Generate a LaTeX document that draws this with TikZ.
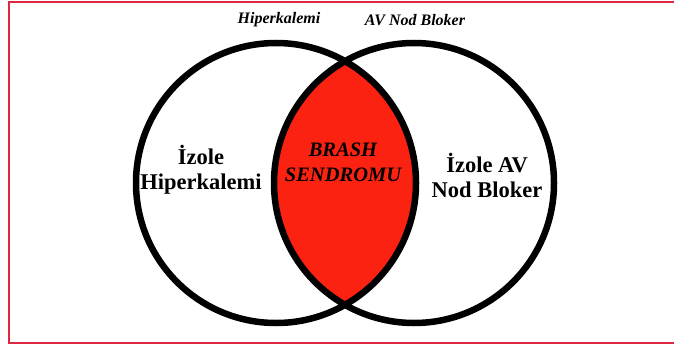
\documentclass[tikz,border=0pt]{standalone}
\usepackage{fontspec}
\setmainfont{Liberation Serif}
\definecolor{lensred}{RGB}{252,34,18}
\definecolor{framered}{RGB}{222,40,66}
\tikzset{
    every node/.style={inner sep=0mm, align=center}
}
\tikzset{ring/.style={draw=black, line width=6.5pt}}
\tikzset{toplabel/.style={font=\bfseries\itshape\fontsize{16}{18}\selectfont}}
\tikzset{sidelabel/.style={font=\bfseries\fontsize{22.5}{25}\selectfont}}
\tikzset{lenslabel/.style={font=\bfseries\itshape\fontsize{20.5}{25}\selectfont}}

\begin{document}
\begin{tikzpicture}[x=1pt, y=-1pt]
  \useasboundingbox (0,0) rectangle (674,345);
  \fill[white] (0,0) rectangle (674,345);
  \draw[framered, line width=1.3pt] (680,2) -- (9,2) -- (9,343) -- (680,343);

  \coordinate (lc) at (276,183);
  \coordinate (rc) at (414,183);

  % overlap
  \begin{scope}
    \clip (lc) circle [radius=140pt];
    \fill[lensred] (rc) circle [radius=140pt];
  \end{scope}
  \draw[ring] (lc) circle [radius=140pt];
  \draw[ring] (rc) circle [radius=140pt];

  \node (hk) [toplabel] at (279,20) {Hiperkalemi};
  \node (av) [toplabel] at (415,20) {AV Nod Bloker};

  \node (iz1) [sidelabel] at (201,170) {İzole\\Hiperkalemi};
  \node (iz2) [sidelabel] at (487,175) {İzole AV\\Nod Bloker};
  \node (brash) [lenslabel] at (343,162) {BRASH\\SENDROMU};
\end{tikzpicture}
\end{document}
